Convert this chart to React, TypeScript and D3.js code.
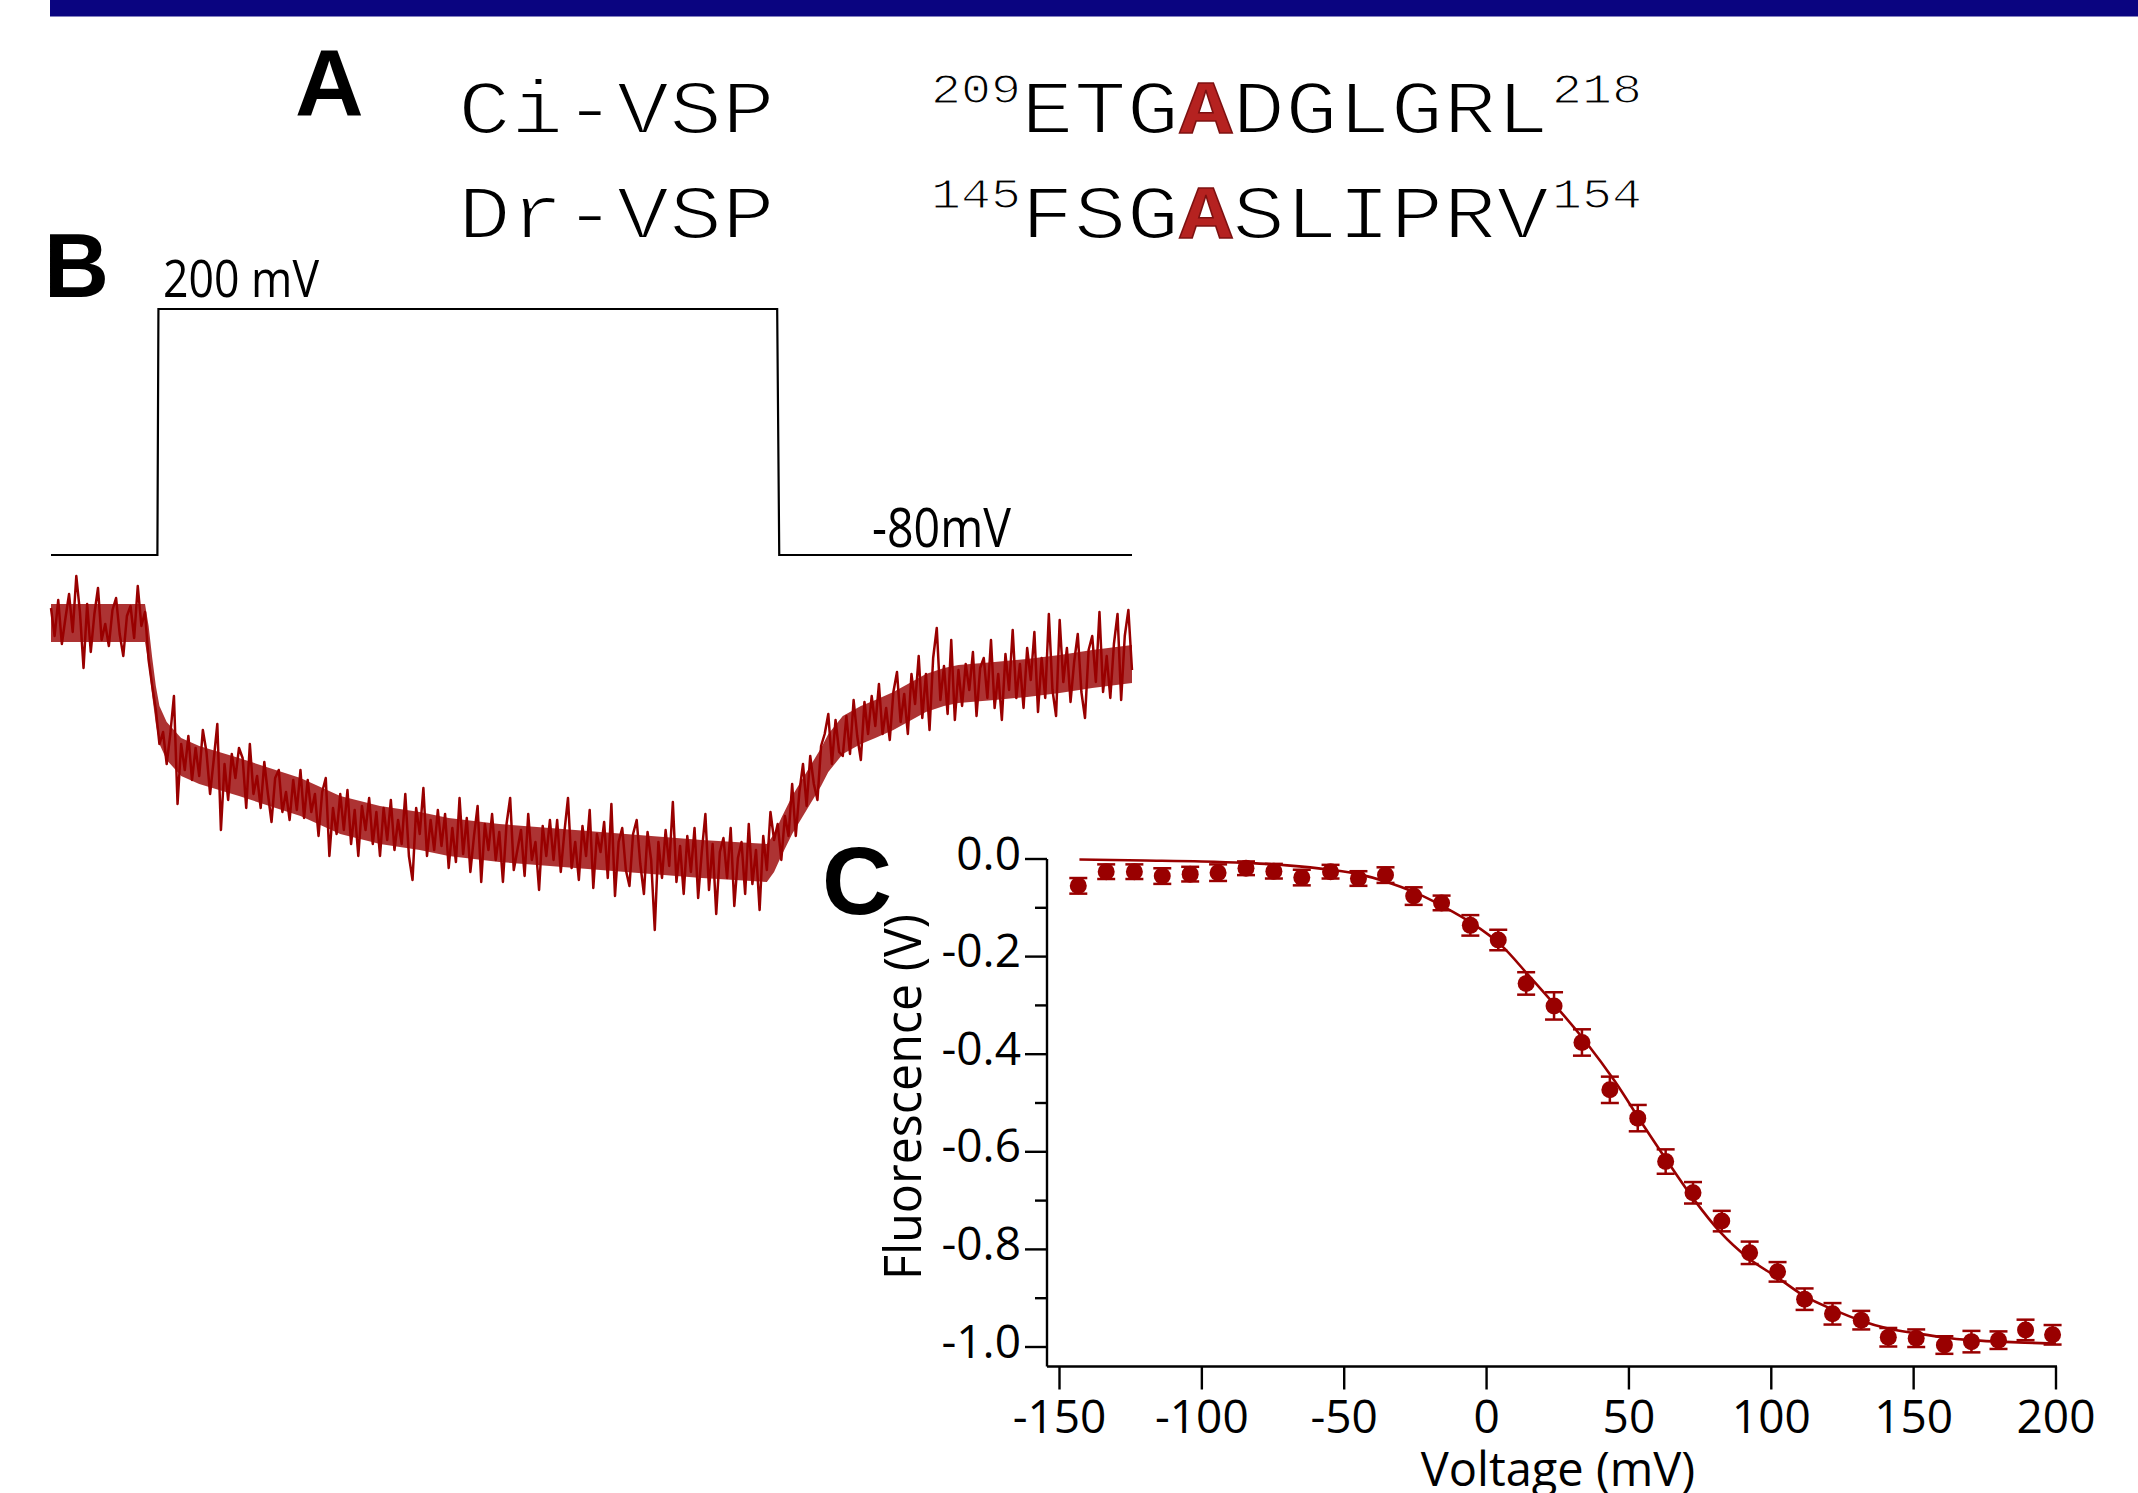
import React, { useEffect } from 'react';
import * as d3 from 'd3';

// ---------- Panel A : sequence alignment ----------
const seqNames = ['Ci-VSP', 'Dr-VSP'];
const seqStartNum = ['209', '145'];
const seqEndNum = ['218', '154'];
const seqBefore = ['ETG', 'FSG'];
const seqResidue = ['A', 'A'];
const seqAfter = ['DGLGRL', 'SLIPRV'];

// ---------- Panel B : voltage step + fluorescence trace ----------
const protocolTime = [0, 103, 104, 703, 705, 1046.5]; // ms
const protocolVolt = [-80, -80, 200, 200, -80, -80]; // mV
const stepLabel = '200 mV';
const holdLabel = '-80mV';
const traceInterval = 3.5; // ms per sample
const traceF = [
  6, -8, 10, -12, 1, 13, -6, 22, 4, -24, 8, -16, 3, 16, -10, -2, -13, 5, 11, -7, -18, 2, 7, -9, 17, -3, 4,
  -20, -33, -45, -62, -56, -72, -57, -38, -92, -62, -75, -58, -80, -64, -78,
  -55, -66, -87, -70, -52, -105, -72, -90, -67, -79, -64,
  -69, -94, -62, -87, -78, -94, -71, -87, -101, -79, -75, -96, -86, -100, -80, -95, -75,
  -99, -80, -96, -87, -108, -86, -79, -118, -94, -107, -87, -105, -85, -112, -95, -118, -93, -105, -89, -112, -96, -118,
  -94, -110, -90, -115, -100, -112, -87, -118, -130, -94, -107, -84, -118, -100, -115, -95, -113, -97, -124,
  -104, -121, -89, -117, -99, -126, -108, -93, -131, -102, -115, -97, -120, -106, -131, -102, -89, -125, -115, -105, -128, -97, -120, -111, -135, -103, -118, -100,
  -120, -100, -126, -106, -89, -124, -111, -130, -103, -118, -95, -134, -107, -116, -101, -129, -92, -138, -111, -104, -125, -133, -107, -100, -122, -137, -106, -120,
  -155, -111, -129, -105, -123, -91, -131, -113, -137, -108, -126, -104, -139, -116, -97, -135, -112, -147, -116, -109, -129, -104, -143, -119, -111, -137, -102, -132, -115, -145, -108, -125, -96, -110,
  -102, -120, -98, -108, -82, -108, -86, -72, -93, -68, -82, -90, -63, -57, -47, -72, -50, -66, -68,
  -48, -67, -40, -58, -70, -41, -57, -38, -53, -32, -57, -44, -60, -36, -26, -51, -37, -57, -27, -42, -18, -49, -27, -55, -19, -4, -40, -23, -47, -10, -50, -25,
  -43, -22, -35, -16, -48, -24, -19, -39, -10, -44, -27, -50, -17, -35, -5, -39, -22, -44, -14, -30, -6, -46, -19, -39, 3, -35, -48, 0, -31, -14, -41, -21, -7, -36, -49, -15, -8, -31, 4, -36, -18, -39, -12, 3, -40, -8, 5, -25,
];
// dense core of the noisy trace (upper / lower edge of the darkest part)
const bandTime = [0, 91, 94.5, 98, 101.5, 105, 112, 126, 143.5, 182, 241.5, 280, 318.5, 357, 385, 434, 483, 532, 581, 630, 693, 700, 707, 717.5, 728, 735, 745.5, 752.5, 766.5, 784, 798, 815.5, 833, 847, 864.5, 878.5, 913.5, 945, 976.5, 1008, 1046.5];
const bandHigh = [8, 8, -3, -19, -33, -43, -51, -59, -63, -69, -79, -88, -93, -96, -99, -102, -104, -106, -108, -110, -112, -107, -99, -88, -79, -73, -64, -57, -48, -43, -40, -36, -31, -27, -24, -22.5, -21, -19.5, -17.5, -15, -12.5];
const bandLow = [-11, -11, -22, -38, -52, -62, -70, -78, -82, -88, -98, -107, -112, -115, -118, -121, -123, -125, -127, -129, -131, -126, -118, -107, -98, -92, -83, -76, -67, -62, -59, -55, -50, -46, -43, -41.5, -40, -38.5, -36.5, -34, -31.5];

// ---------- Panel C : F-V relationship ----------
const voltages = [
  -143.4, -133.6, -123.7, -113.9, -104.1, -94.3, -84.5, -74.7, -64.9, -54.8, -45.0, -35.5,
  -25.6, -15.8, -5.7, 4.1, 13.9, 23.7, 33.5, 43.3, 53.1, 62.9, 72.5, 82.6,
  92.4, 102.2, 111.7, 121.5, 131.6, 141.1, 150.9, 160.8, 170.3, 179.8, 189.3, 198.8,
];
const fluor = [
  -0.055, -0.026, -0.026, -0.035, -0.031, -0.028, -0.019, -0.025, -0.038, -0.026, -0.04, -0.033,
  -0.076, -0.09, -0.136, -0.166, -0.255, -0.301, -0.376, -0.473, -0.531, -0.62, -0.684, -0.742,
  -0.807, -0.846, -0.902, -0.932, -0.945, -0.98, -0.982, -0.996, -0.989, -0.986, -0.965, -0.975,
];
const fluorErr = [
  0.016, 0.015, 0.015, 0.016, 0.015, 0.017, 0.014, 0.015, 0.016, 0.014, 0.015, 0.016,
  0.018, 0.015, 0.021, 0.021, 0.023, 0.028, 0.027, 0.027, 0.027, 0.025, 0.022, 0.021,
  0.023, 0.02, 0.022, 0.022, 0.019, 0.019, 0.018, 0.018, 0.022, 0.018, 0.021, 0.02,
];
const fitV = [-143, -120, -100, -85, -70, -55, -45, -35, -25, -15, -5, 5, 15, 25, 35, 45, 55, 63, 73, 82, 92, 102, 112, 122, 131, 141, 151, 160, 170, 180, 189, 200];
const fitF = [-0.001, -0.003, -0.005, -0.008, -0.013, -0.022, -0.031, -0.047, -0.069, -0.098, -0.132, -0.176, -0.24, -0.306, -0.376, -0.455, -0.545, -0.615, -0.699, -0.764, -0.818, -0.857, -0.897, -0.924, -0.945, -0.962, -0.972, -0.98, -0.986, -0.989, -0.991, -0.993];
const xTicks = [-150, -100, -50, 0, 50, 100, 150, 200];
const yTicksMajor = [0, -0.2, -0.4, -0.6, -0.8, -1.0];
const yTicksMinor = [-0.1, -0.3, -0.5, -0.7, -0.9];
const xLabel = 'Voltage (mV)';
const yLabel = 'Fluorescence (V)';

const RED = '#990000';
const MONO = '"Liberation Mono", "DejaVu Sans Mono", monospace';
const SANS = '"Open Sans", "Noto Sans", sans-serif';
const BOLD = '"Liberation Sans", Arial, sans-serif';

export default function App() {
  useEffect(() => {
    document.body.style.margin = '0';
    document.body.style.overflow = 'hidden';
  }, []);

  // Panel B scales
  const xB = d3.scaleLinear().domain([0, 1046.5]).range([51, 1132]);
  const vB = d3.scaleLinear().domain([-80, 200]).range([555, 309]);
  const fB = d3.scaleLinear().domain([0, -120]).range([620, 860]);
  const protoLine = d3
    .line<number>()
    .x((_, i) => xB(protocolTime[i]))
    .y((d) => vB(d))(protocolVolt) as string;
  const traceLine = d3
    .line<number>()
    .x((_, i) => xB(i * traceInterval))
    .y((d) => fB(d))(traceF) as string;
  const bandArea = d3
    .area<number>()
    .x((d) => xB(d))
    .y0((_, i) => fB(bandLow[i]))
    .y1((_, i) => fB(bandHigh[i]))(bandTime) as string;

  // Panel C scales
  const xC = d3.scaleLinear().domain([-150, 200]).range([1059.5, 2056]);
  const yC = d3.scaleLinear().domain([0, -1]).range([859, 1347]);
  const axisX = 1047;
  const axisY = 1366.5;
  const fitLine = d3
    .line<number>()
    .x((_, i) => xC(fitV[i]))
    .y((d) => yC(d))
    .curve(d3.curveMonotoneX)(fitF) as string;

  const monoScale = 0.865;
  const mainSize = 88;
  const supSize = 50;
  const adv = mainSize * 0.6;
  const rowBase = [133, 238];
  const seqX = 1021;
  // thin the glyph strokes toward a light Courier-like weight
  const thinMain = { stroke: '#fff', strokeWidth: 2.6 } as const;
  const thinSup = { stroke: '#fff', strokeWidth: 1.4 } as const;

  return (
    <svg
      width={2138}
      height={1493}
      viewBox="0 0 2138 1493"
      style={{ position: 'absolute', left: 0, top: 0, background: '#fff' }}
    >
      <rect x={0} y={0} width={2138} height={1493} fill="#fff" />
      {/* top navy band */}
      <rect x={50} y={0} width={2088} height={16.5} fill="#0a0480" />

      {/* Panel A */}
      <text x={295} y={116} fontFamily={BOLD} fontWeight="bold" fontSize={95}>A</text>
      {seqNames.map((name, r) => (
        <g key={name}>
          <text transform={`translate(458,${rowBase[r]}) scale(1,${monoScale})`} fontFamily={MONO} fontSize={mainSize} fill="#000" {...thinMain}>
            {name}
          </text>
          <text transform={`translate(931,${rowBase[r] - 30}) scale(1,${monoScale})`} fontFamily={MONO} fontSize={supSize} fill="#000" {...thinSup}>
            {seqStartNum[r]}
          </text>
          <text transform={`translate(${seqX},${rowBase[r]}) scale(1,${monoScale})`} fontFamily={MONO} fontSize={mainSize} fill="#000" {...thinMain}>
            {seqBefore[r]}
          </text>
          <text
            transform={`translate(${seqX + adv * seqBefore[r].length},${rowBase[r]}) scale(1,${monoScale})`}
            fontFamily={MONO}
            fontSize={mainSize}
            fontWeight="bold"
            fill="#b52220"
            stroke="#7d1010"
            strokeWidth={1.6}
          >
            {seqResidue[r]}
          </text>
          <text
            transform={`translate(${seqX + adv * (seqBefore[r].length + 1)},${rowBase[r]}) scale(1,${monoScale})`}
            fontFamily={MONO}
            fontSize={mainSize}
            fill="#000"
            {...thinMain}
          >
            {seqAfter[r]}
          </text>
          <text
            transform={`translate(${seqX + adv * (seqBefore[r].length + 1 + seqAfter[r].length) + 3},${rowBase[r] - 30}) scale(1,${monoScale})`}
            fontFamily={MONO}
            fontSize={supSize}
            fill="#000"
            {...thinSup}
          >
            {seqEndNum[r]}
          </text>
        </g>
      ))}

      {/* Panel B */}
      <text x={44} y={297} fontFamily={BOLD} fontWeight="bold" fontSize={90}>B</text>
      <text x={163} y={297} fontFamily={SANS} fontSize={52} textLength={156} lengthAdjust="spacingAndGlyphs">
        {stepLabel}
      </text>
      <text x={872} y={547} fontFamily={SANS} fontSize={54} textLength={139} lengthAdjust="spacingAndGlyphs">
        {holdLabel}
      </text>
      <path d={protoLine} fill="none" stroke="#000" strokeWidth={2.2} />
      <path d={bandArea} fill={RED} fillOpacity={0.8} stroke="none" />
      <path d={traceLine} fill="none" stroke={RED} strokeWidth={2.5} strokeLinejoin="round" />

      {/* Panel C */}
      <text x={822} y={914} fontFamily={BOLD} fontWeight="bold" fontSize={97}>C</text>
      <line x1={axisX} y1={yC(0)} x2={axisX} y2={axisY} stroke="#000" strokeWidth={2.4} />
      <line x1={axisX} y1={axisY} x2={xC(200) + 1} y2={axisY} stroke="#000" strokeWidth={2.4} />
      {yTicksMajor.map((t) => (
        <g key={`ym${t}`}>
          <line x1={axisX - 22} x2={axisX} y1={yC(t)} y2={yC(t)} stroke="#000" strokeWidth={2.4} />
          <text x={axisX - 26} y={yC(t) + 10.5} textAnchor="end" fontFamily={SANS} fontSize={46}>
            {t === 0 ? '0.0' : d3.format('.1f')(t).replace('−', '-')}
          </text>
        </g>
      ))}
      {yTicksMinor.map((t) => (
        <line key={`yn${t}`} x1={axisX - 12} x2={axisX} y1={yC(t)} y2={yC(t)} stroke="#000" strokeWidth={2.4} />
      ))}
      {xTicks.map((t) => (
        <g key={`x${t}`}>
          <line x1={xC(t)} x2={xC(t)} y1={axisY} y2={axisY + 23} stroke="#000" strokeWidth={2.4} />
          <text x={xC(t)} y={1433} textAnchor="middle" fontFamily={SANS} fontSize={46}>
            {String(t)}
          </text>
        </g>
      ))}
      <text x={1558} y={1486} textAnchor="middle" fontFamily={SANS} fontSize={47}>
        {xLabel}
      </text>
      <text
        transform="translate(921,1097) rotate(-90)"
        textAnchor="middle"
        fontFamily={SANS}
        fontSize={52}
        textLength={366}
        lengthAdjust="spacingAndGlyphs"
      >
        {yLabel}
      </text>
      <path d={fitLine} fill="none" stroke={RED} strokeWidth={2.6} />
      {voltages.map((v, i) => {
        const cx = xC(v);
        const y0 = yC(fluor[i] + fluorErr[i]);
        const y1 = yC(fluor[i] - fluorErr[i]);
        return (
          <g key={`p${i}`} stroke={RED} strokeWidth={2.5}>
            <line x1={cx} x2={cx} y1={y0} y2={y1} />
            <line x1={cx - 9} x2={cx + 9} y1={y0} y2={y0} />
            <line x1={cx - 9} x2={cx + 9} y1={y1} y2={y1} />
            <circle cx={cx} cy={yC(fluor[i])} r={8.5} fill={RED} stroke="none" />
          </g>
        );
      })}
    </svg>
  );
}
